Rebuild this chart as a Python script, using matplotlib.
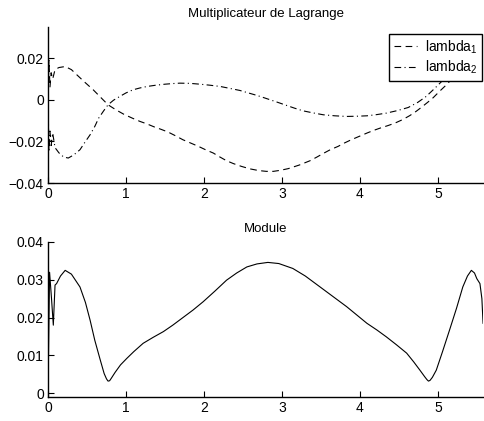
import matplotlib
matplotlib.use("Agg")
import matplotlib.pyplot as plt
from matplotlib.lines import Line2D

plt.rcParams['font.family'] = ['Liberation Sans', 'DejaVu Sans']
plt.rcParams['mathtext.fontset'] = 'custom'
plt.rcParams['mathtext.rm'] = 'Liberation Sans'
plt.rcParams['mathtext.it'] = 'Liberation Sans'

# ---- data ----
x_l1 = [0.0, 0.012, 0.025, 0.04, 0.06, 0.09, 0.14, 0.22, 0.30, 0.37, 0.47, 0.58, 0.68,
        0.77, 0.87, 0.97, 1.08, 1.18, 1.27, 1.36, 1.45, 1.54, 1.63, 1.73, 1.83, 1.93,
        2.02, 2.12, 2.20, 2.29, 2.38, 2.48, 2.59, 2.70, 2.80, 2.89, 2.98, 3.08, 3.22,
        3.36, 3.45, 3.53, 3.62, 3.72, 3.80, 3.89, 3.99, 4.09, 4.17, 4.26, 4.36, 4.45,
        4.55, 4.64, 4.72, 4.79, 4.87, 4.94, 5.02, 5.11, 5.18, 5.25, 5.32, 5.38, 5.44,
        5.48, 5.52, 5.55, 5.58]
lambda1 = [0.0, 0.019, 0.006, 0.013, 0.010, 0.0145, 0.0155, 0.016, 0.0145, 0.012, 0.0085,
           0.0048, 0.0010, -0.0024, -0.0048, -0.0069, -0.0088, -0.0104, -0.0116, -0.0130,
           -0.0142, -0.0155, -0.0172, -0.0192, -0.0208, -0.0224, -0.0240, -0.0256, -0.0274,
           -0.0293, -0.0307, -0.0320, -0.0332, -0.0340, -0.0344, -0.0344, -0.0339, -0.0331,
           -0.0314, -0.0293, -0.0275, -0.0258, -0.0240, -0.0224, -0.0208, -0.0192, -0.0176,
           -0.0160, -0.0148, -0.0136, -0.0124, -0.0112, -0.0095, -0.0076, -0.0056, -0.0036,
           -0.0012, 0.0010, 0.0040, 0.0072, 0.0100, 0.0125, 0.0150, 0.0170, 0.0185, 0.0195,
           0.0198, 0.0190, 0.0175]

x_l2 = [0.0, 0.012, 0.025, 0.04, 0.06, 0.09, 0.14, 0.20, 0.26, 0.33, 0.41, 0.47, 0.54,
        0.60, 0.65, 0.71, 0.77, 0.84, 0.92, 1.00, 1.09, 1.18, 1.27, 1.38, 1.50, 1.60,
        1.69, 1.82, 1.95, 2.08, 2.21, 2.33, 2.46, 2.57, 2.68, 2.77, 2.85, 2.96, 3.06,
        3.16, 3.27, 3.40, 3.53, 3.68, 3.83, 3.96, 4.09, 4.22, 4.34, 4.48, 4.62, 4.74,
        4.85, 4.96, 5.07, 5.15, 5.22, 5.30, 5.37, 5.45, 5.50, 5.54, 5.58]
lambda2 = [0.0, -0.025, -0.015, -0.022, -0.016, -0.023, -0.0255, -0.0275, -0.028, -0.0265,
           -0.024, -0.0206, -0.0168, -0.0128, -0.0088, -0.0055, -0.0024, -0.0002, 0.0016,
           0.0033, 0.0048, 0.0057, 0.0064, 0.0070, 0.0075, 0.0078, 0.0080, 0.0079, 0.0075,
           0.0070, 0.0064, 0.0055, 0.0045, 0.0033, 0.0021, 0.0010, 0.0000, -0.0014, -0.0027,
           -0.0040, -0.0053, -0.0063, -0.0072, -0.0077, -0.0080, -0.0079, -0.0077, -0.0071,
           -0.0064, -0.0052, -0.0037, -0.0013, 0.0016, 0.0055, 0.0096, 0.0125, 0.0150,
           0.0180, 0.0205, 0.0225, 0.0220, 0.0200, 0.0170]

x_mod = [0.0, 0.02, 0.045, 0.068, 0.09, 0.11, 0.16, 0.22, 0.30, 0.41, 0.48, 0.54, 0.60,
         0.67, 0.72, 0.75, 0.77, 0.79, 0.81, 0.86, 0.93, 1.01, 1.10, 1.22, 1.35, 1.48,
         1.60, 1.73, 1.86, 1.99, 2.14, 2.29, 2.42, 2.55, 2.68, 2.82, 2.96, 3.14, 3.30,
         3.49, 3.66, 3.83, 3.96, 4.09, 4.22, 4.34, 4.47, 4.60, 4.69, 4.77, 4.83, 4.86,
         4.88, 4.90, 4.93, 4.98, 5.06, 5.15, 5.24, 5.32, 5.38, 5.43, 5.47, 5.50, 5.54,
         5.565, 5.58]
module = [0.0, 0.032, 0.025, 0.018, 0.0286, 0.029, 0.031, 0.0325, 0.0315, 0.0281, 0.0240,
          0.0193, 0.0140, 0.0088, 0.0052, 0.0038, 0.0032, 0.0033, 0.0039, 0.0055, 0.0075,
          0.0092, 0.0110, 0.0132, 0.0148, 0.0163, 0.0180, 0.0200, 0.0220, 0.0242, 0.0270,
          0.0299, 0.0318, 0.0334, 0.0342, 0.0346, 0.0343, 0.0330, 0.0310, 0.0281, 0.0255,
          0.0229, 0.0207, 0.0185, 0.0167, 0.0149, 0.0128, 0.0106, 0.0083, 0.0061, 0.0044,
          0.0036, 0.0032, 0.0034, 0.0042, 0.0061, 0.0110, 0.0167, 0.0225, 0.0281, 0.0310,
          0.0325, 0.0318, 0.0303, 0.0290, 0.0250, 0.0185]

xticks = [0, 1, 2, 3, 4, 5]
yticks_top = [-0.04, -0.02, 0, 0.02]
ytick_labels_top = ['\u22120.04', '\u22120.02', '0', '0.02']
yticks_bot = [0, 0.01, 0.02, 0.03, 0.04]
ytick_labels_bot = ['0', '0.01', '0.02', '0.03', '0.04']
legend_labels = ['lambda$_1$', 'lambda$_2$']

fig = plt.figure(figsize=(4.85, 4.21), dpi=100)
ax1 = fig.add_axes([0.099, 0.5653, 0.897, 0.3706])
ax2 = fig.add_axes([0.099, 0.057, 0.897, 0.3682])

lw = 0.8
dash = (0, (6, 4))
dashdot = (0, (6, 3, 1, 3))
ax1.plot(x_l1, lambda1, color='black', lw=lw, linestyle=dash)
ax1.plot(x_l2, lambda2, color='black', lw=lw, linestyle=dashdot)
ax1.set_xlim(0, 5.58)
ax1.set_ylim(-0.04, 0.035)
ax1.set_yticks(yticks_top)
ax1.set_yticklabels(ytick_labels_top)
ax1.set_title('Multiplicateur de Lagrange', fontsize=9.5, pad=7)

handles = [Line2D([], [], color='black', lw=lw, linestyle=dash),
           Line2D([], [], color='black', lw=lw, linestyle=dashdot)]
leg = ax1.legend(handles, legend_labels, loc='upper right', bbox_to_anchor=(0.998, 0.955),
                 fontsize=10, frameon=True, fancybox=False, framealpha=1,
                 edgecolor='black', handlelength=1.7, handletextpad=0.6,
                 borderpad=0.3, labelspacing=0.25, borderaxespad=0.0)
leg.get_frame().set_linewidth(1.0)

ax2.plot(x_mod, module, color='black', lw=lw)
ax2.set_xlim(0, 5.58)
ax2.set_ylim(-0.001, 0.04)
ax2.set_yticks(yticks_bot)
ax2.set_yticklabels(ytick_labels_bot)
ax2.set_title('Module', fontsize=9.5, pad=7)

for ax in (ax1, ax2):
    ax.set_xticks(xticks)
    ax.spines['top'].set_visible(False)
    ax.spines['right'].set_visible(False)
    ax.spines['left'].set_linewidth(1.0)
    ax.spines['bottom'].set_linewidth(1.0)
    ax.tick_params(direction='in', length=4, width=0.8, labelsize=10, pad=3)

fig.savefig('out.png', dpi=100)
